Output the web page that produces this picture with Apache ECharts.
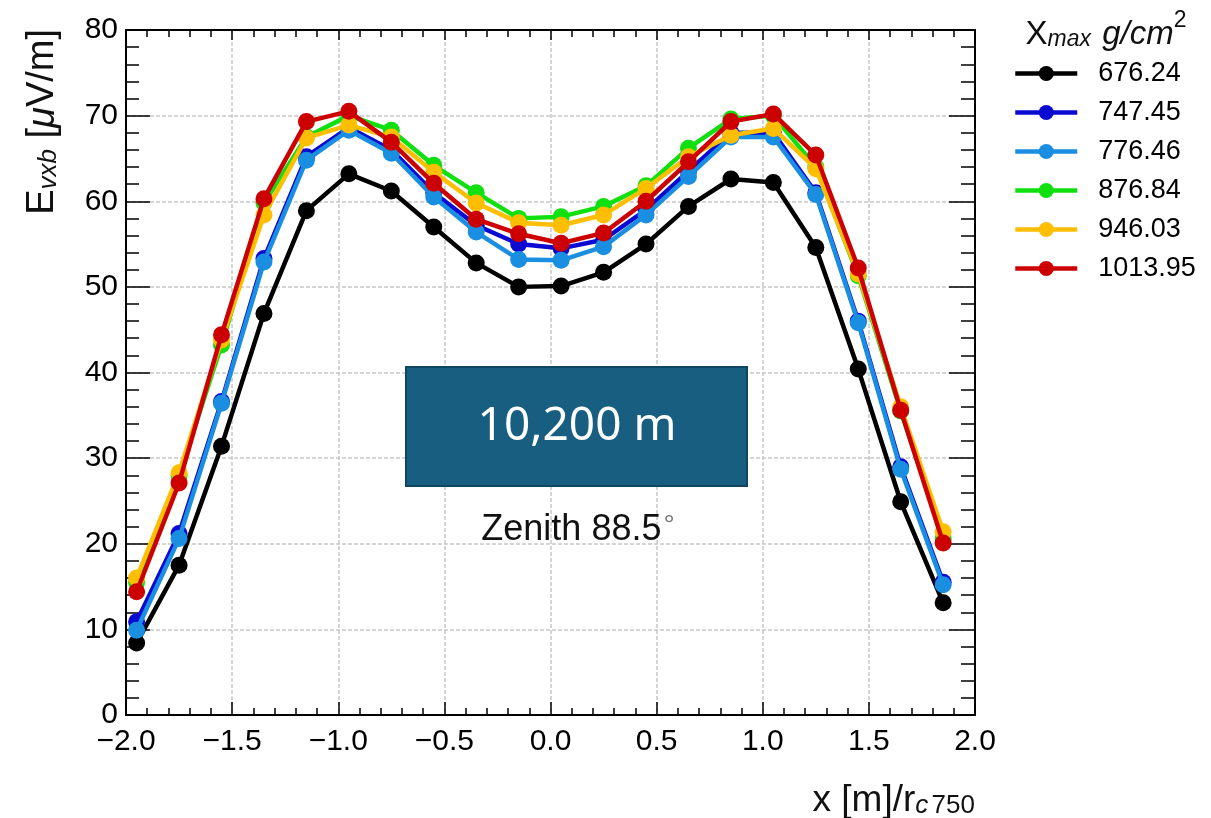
<!DOCTYPE html>
<html>
<head>
<meta charset="utf-8">
<script src="https://cdn.jsdelivr.net/npm/echarts@6/dist/echarts.min.js"></script>
<style>
  html, body { margin: 0; padding: 0; background: #ffffff; }
  #chart { width: 1211px; height: 818px; }
</style>
</head>
<body>
<div id="chart"></div>
<script>
// ---- data ----
const xs = [-1.95, -1.75, -1.55, -1.35, -1.15, -0.95, -0.75, -0.55, -0.35, -0.15,
            0.05, 0.25, 0.45, 0.65, 0.85, 1.05, 1.25, 1.45, 1.65, 1.85];
const seriesNames = ['676.24', '747.45', '776.46', '876.84', '946.03', '1013.95'];
const v676 = [8.4, 17.5, 31.4, 46.9, 58.9, 63.2, 61.2, 57.0, 52.8, 50.0,
              50.1, 51.7, 55.0, 59.4, 62.6, 62.2, 54.6, 40.4, 24.9, 13.1];
const v747 = [10.9, 21.2, 36.6, 53.3, 65.2, 68.6, 66.0, 61.0, 57.2, 55.0,
              54.5, 55.5, 59.0, 63.5, 68.0, 68.0, 61.0, 46.0, 29.0, 15.5];
const v776 = [9.9, 20.6, 36.4, 52.9, 64.8, 68.3, 65.6, 60.5, 56.4, 53.2,
              53.1, 54.7, 58.4, 62.9, 67.5, 67.5, 60.8, 45.8, 28.7, 15.2];
const v876 = [15.5, 28.0, 43.2, 59.8, 67.5, 70.0, 68.3, 64.2, 61.0, 58.0,
              58.2, 59.4, 61.8, 66.2, 69.6, 70.0, 64.0, 51.3, 35.5, 20.6];
const v946 = [16.0, 28.3, 43.8, 58.4, 67.4, 68.9, 67.5, 63.4, 59.8, 57.5,
              57.2, 58.4, 61.5, 65.2, 67.7, 68.5, 63.8, 51.5, 36.0, 21.4];
const v1013 = [14.4, 27.1, 44.4, 60.3, 69.3, 70.5, 66.9, 62.1, 57.9, 56.2,
               55.1, 56.3, 60.0, 64.6, 69.3, 70.2, 65.4, 52.2, 35.6, 20.1];
const seriesValues = [v676, v747, v776, v876, v946, v1013];
const colors = ['#000000', '#0a0ad2', '#1a8ee0', '#10e010', '#ffbf00', '#cc0000'];
const xTickLabels = ['−2.0', '−1.5', '−1.0', '−0.5', '0.0', '0.5', '1.0', '1.5', '2.0'];
const yTickLabels = ['0', '10', '20', '30', '40', '50', '60', '70', '80'];
const annotationText = '10,200 m';
const zenithText = 'Zenith 88.5';

// ---- chart ----
const FONT = 'Liberation Sans, Arial, sans-serif';
const LINE_W = 4.5;
const chart = echarts.init(document.getElementById('chart'), null, { renderer: 'canvas' });

const series = seriesNames.map((name, i) => ({
  name: name,
  type: 'line',
  xAxisIndex: 0,
  yAxisIndex: 0,
  data: xs.map((x, j) => [x, seriesValues[i][j]]),
  symbol: 'circle',
  symbolSize: 17,
  showSymbol: true,
  lineStyle: { normal: { width: LINE_W, color: colors[i] }, width: LINE_W, color: colors[i] },
  itemStyle: { color: colors[i], borderWidth: 0 },
  emphasis: { disabled: true, lineStyle: { width: LINE_W } },
  animation: false,
  z: 3 + i
}));

const axisCommon = {
  axisLine: { show: true, onZero: false, lineStyle: { color: '#000', width: 2 } },
};

const xLabelFor = v => {
  const idx = Math.round((v + 2) / 0.5);
  return xTickLabels[idx] !== undefined ? xTickLabels[idx] : '';
};
const yLabelFor = v => {
  const idx = Math.round(v / 10);
  return yTickLabels[idx] !== undefined ? yTickLabels[idx] : '';
};

const option = {
  backgroundColor: '#ffffff',
  animation: false,
  color: colors,
  grid: { left: 126, right: 236, top: 30, bottom: 103, containLabel: false },
  xAxis: [
    Object.assign({}, axisCommon, {
      type: 'value', position: 'bottom', min: -2, max: 2, interval: 0.5,
      axisTick: { show: true, inside: true, length: 13, lineStyle: { color: '#000', width: 1.5 } },
      minorTick: { show: true, splitNumber: 5, length: 7, lineStyle: { color: '#000', width: 1.5 } },
      axisLabel: { show: true, margin: 12, color: '#000', fontSize: 30, fontFamily: FONT, formatter: xLabelFor },
      splitLine: { show: true, lineStyle: { color: '#c8c8c8', width: 1.5, type: [4, 2] } }
    }),
    Object.assign({}, axisCommon, {
      type: 'value', position: 'top', min: -2, max: 2, interval: 0.5,
      axisTick: { show: true, inside: true, length: 10, lineStyle: { color: '#000', width: 1.5 } },
      minorTick: { show: true, splitNumber: 5, length: 7, lineStyle: { color: '#000', width: 1.5 } },
      axisLabel: { show: false },
      splitLine: { show: false }
    })
  ],
  yAxis: [
    Object.assign({}, axisCommon, {
      type: 'value', position: 'left', min: 0, max: 80, interval: 10,
      axisTick: { show: true, inside: true, length: 24, lineStyle: { color: '#000', width: 1.5 } },
      minorTick: { show: true, splitNumber: 5, length: 13, lineStyle: { color: '#000', width: 1.5 } },
      axisLabel: { show: true, margin: 8, color: '#000', fontSize: 30, fontFamily: FONT, formatter: yLabelFor },
      splitLine: { show: true, lineStyle: { color: '#c8c8c8', width: 1.5, type: [4, 2] } }
    }),
    Object.assign({}, axisCommon, {
      type: 'value', position: 'right', min: 0, max: 80, interval: 10,
      axisTick: { show: true, inside: true, length: 26, lineStyle: { color: '#000', width: 1.5 } },
      minorTick: { show: true, splitNumber: 5, length: 14, lineStyle: { color: '#000', width: 1.5 } },
      axisLabel: { show: false },
      splitLine: { show: false }
    })
  ],
  legend: {
    show: true,
    orient: 'vertical',
    left: 1008,
    top: 55,
    itemWidth: 62,
    itemHeight: 19,
    itemGap: 12,
    data: seriesNames,
    lineStyle: { width: 4.5 },
    textStyle: { fontSize: 27, lineHeight: 27, color: '#000', fontFamily: FONT, padding: [0, 0, 0, 16] }
  },
  series: series,
  graphic: [
    {
      type: 'rect',
      shape: { x: 406, y: 367, width: 341, height: 119 },
      style: { fill: '#175e80', stroke: '#0f4664', lineWidth: 2 },
      z: 50
    },
    {
      type: 'text',
      x: 577, y: 427,
      style: {
        text: annotationText, fill: '#ffffff', font: '46px "Noto Sans", sans-serif',
        textAlign: 'center', textVerticalAlign: 'middle'
      },
      z: 51
    },
    {
      type: 'text',
      x: 578, y: 528,
      style: {
        text: '{a|' + zenithText + '}{d|°}',
        textAlign: 'center', textVerticalAlign: 'middle',
        rich: {
          a: { fontSize: 36, fontFamily: FONT, fill: '#111', lineHeight: 40, verticalAlign: 'bottom' },
          d: { fontSize: 28, fontFamily: FONT, fill: '#777', lineHeight: 40, verticalAlign: 'bottom', padding: [0, 0, 8, 2] }
        }
      },
      z: 51
    },
    {
      type: 'text',
      x: 40, y: 29,
      rotation: Math.PI / 2,
      style: {
        text: '{a|E}{s|vxb}{a| [}{i|μ}{a|V/m]}',
        textAlign: 'right', textVerticalAlign: 'middle',
        rich: {
          a: { fontSize: 38, fontFamily: FONT, fill: '#111', lineHeight: 44, verticalAlign: 'bottom' },
          i: { fontSize: 38, fontFamily: FONT, fontStyle: 'italic', fill: '#111', lineHeight: 44, verticalAlign: 'bottom' },
          s: { fontSize: 26, fontFamily: FONT, fontStyle: 'italic', fill: '#111', lineHeight: 36, verticalAlign: 'bottom' }
        }
      }
    },
    {
      type: 'text',
      x: 975, y: 797,
      style: {
        text: '{a|x [m]/r}{s|c} {t|750}',
        textAlign: 'right', textVerticalAlign: 'middle',
        rich: {
          a: { fontSize: 37, fontFamily: FONT, fill: '#111', lineHeight: 44, verticalAlign: 'bottom' },
          s: { fontSize: 26, fontFamily: FONT, fontStyle: 'italic', fill: '#111', lineHeight: 34, verticalAlign: 'bottom' },
          t: { fontSize: 26, fontFamily: FONT, fill: '#111', lineHeight: 34, verticalAlign: 'bottom' }
        }
      }
    },
    {
      type: 'text',
      x: 1106, y: 30,
      style: {
        text: '{a|X}{s|max}{a| }{i|g/cm}{p|2}',
        textAlign: 'center', textVerticalAlign: 'middle',
        rich: {
          a: { fontSize: 33, fontFamily: FONT, fill: '#111', lineHeight: 42, verticalAlign: 'bottom' },
          s: { fontSize: 23, fontFamily: FONT, fontStyle: 'italic', fill: '#111', lineHeight: 32, verticalAlign: 'bottom', padding: [0, 2, 0, 0] },
          i: { fontSize: 33, fontFamily: FONT, fontStyle: 'italic', fill: '#111', lineHeight: 42, verticalAlign: 'bottom' },
          p: { fontSize: 23, fontFamily: FONT, fill: '#111', lineHeight: 42, verticalAlign: 'top' }
        }
      }
    }
  ]
};

chart.setOption(option);
</script>
</body>
</html>
